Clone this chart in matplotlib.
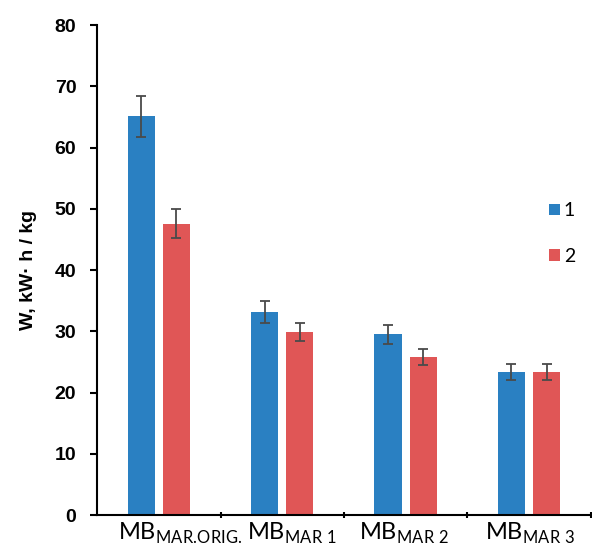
import matplotlib.pyplot as plt
import numpy as np

categories = [r'MAR.\!ORIG.', r'MAR\ 1', r'MAR\ 2', r'MAR\ 3']
series1 = [65.1, 33.2, 29.5, 23.4]
series2 = [47.6, 29.9, 25.8, 23.3]
err1 = [3.3, 1.8, 1.5, 1.3]
err2 = [2.4, 1.5, 1.3, 1.3]
labels = ['1', '2']

blue = '#2a80c2'
red = '#e05656'
# horizontal nudge (points) of each category label, as in the original
label_dx = [15, 7, -1, 1]

fig = plt.figure(figsize=(5.92, 5.47), dpi=100)
ax = fig.add_axes([0.164, 0.0585, 0.834, 0.8955])

x = np.arange(len(categories))
w = 0.22
off = 0.143
ekw = dict(ecolor='#4a4a4a', elinewidth=1.3, capsize=3.5, capthick=1.3)
b1 = ax.bar(x - off, series1, w, color=blue, yerr=err1, error_kw=ekw, label=labels[0])
b2 = ax.bar(x + off, series2, w, color=red, yerr=err2, error_kw=ekw, label=labels[1])

ax.set_xlim(-0.5, 3.5)
ax.set_ylim(0, 80)
ax.set_yticks(range(0, 81, 10))
for t in ax.get_yticklabels():
    t.set_fontfamily('Liberation Sans')
    t.set_fontweight('bold')
    t.set_fontsize(14)

ax.set_xticks(x)
ax.set_xticklabels([])
for xi, c, dx in zip(x, categories, label_dx):
    ax.annotate(r'MB$_{\mathregular{%s}}$' % c, xy=(xi, 0),
                xycoords=('data', 'axes fraction'), xytext=(dx, -4),
                textcoords='offset points', ha='center', va='top',
                fontsize=17, fontfamily='Lato', annotation_clip=False)
ax.tick_params(axis='x', length=0)
ax.set_xticks(np.arange(0.5, 4, 1), minor=True)
ax.tick_params(axis='x', which='minor', length=5, direction='inout', width=1.5)
ax.tick_params(axis='y', length=5, width=1.5, pad=10)

ax.set_ylabel('W, kW· h / kg', fontfamily='Liberation Sans', fontweight='bold',
              fontsize=14, labelpad=13)

for s in ['top', 'right']:
    ax.spines[s].set_visible(False)
for s in ['left', 'bottom']:
    ax.spines[s].set_linewidth(1.5)

ax.legend(handles=[b1, b2], loc='upper left', bbox_to_anchor=(0.88, 0.674),
          frameon=False, handlelength=0.55, handleheight=0.55, handletextpad=0.2,
          labelspacing=1.45, prop=dict(family='Lato', size=14))

fig.savefig('out.png', dpi=100)
